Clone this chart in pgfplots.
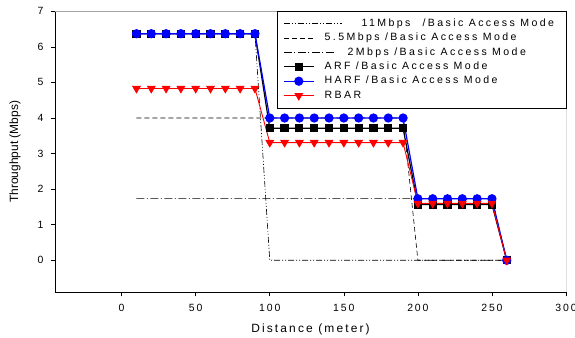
\documentclass[border=0pt]{standalone}
\usepackage{pgfplots}
\pgfplotsset{compat=1.18}
\usepackage{fontspec}
\setmainfont{Liberation Sans}
\newfontfamily\spaced[LetterSpace=18]{Liberation Sans}
\newfontfamily\spacedL[LetterSpace=23]{Liberation Sans}
\definecolor{pblue}{RGB}{0,0,255}
\definecolor{pred}{RGB}{255,0,0}
\pgfplotsset{
  legA/.style={legend image code/.code={\draw[##1,overlay] (0bp,0bp) -- (58bp,0bp); \path (0bp,0bp) -- (30bp,0bp);}},
  legB/.style={legend image code/.code={\draw[##1] (0bp,0bp) -- (30bp,0bp);}},
  legC/.style={legend image code/.code={\draw[##1,overlay] (0bp,0bp) -- (52bp,0bp); \path (0bp,0bp) -- (30bp,0bp);}},
  legM/.style={legend image code/.code={\draw[mark repeat=2, mark phase=2, ##1] plot coordinates {(0bp,0bp) (15bp,0bp) (30bp,0bp)};}},
}
\begin{document}
\begin{tikzpicture}
\useasboundingbox (0bp,0bp) rectangle (575bp,338bp);
\begin{axis}[
  at={(55bp,45.7bp)}, anchor=south west,
  scale only axis, width=511bp, height=281bp,
  xmin=-45, xmax=300, ymin=-0.9, ymax=7,
  axis x line*=bottom, axis y line*=left,
  axis line style={black, line width=0.8pt},
  xtick={0,50,...,300}, ytick={0,1,...,7},
  tick align=outside, major tick length=4bp,
  tick style={black, line width=0.6pt},
  /pgf/number format/assume math mode=true,
  tick label style={font=\spaced\fontsize{10.5}{12}\selectfont},
  yticklabel style={xshift=-4bp},
  xticklabel style={yshift=-4bp},
  xlabel={Distance (meter)},
  ylabel={Throughput (Mbps)},
  xlabel style={font=\spaced\fontsize{12}{14}\selectfont, at={(axis description cs:0.5,-0.1317)}, anchor=center},
  ylabel style={font=\fontsize{12}{14}\selectfont, at={(axis description cs:-0.0783,0.5)}, anchor=center},
  legend style={at={(rel axis cs:1,1)}, anchor=north east, draw=black, fill=white,
    font=\spacedL\fontsize{10.6}{12}\selectfont, inner xsep=6bp, inner ysep=6bp,
    row sep=2.2bp, column sep=9bp,
    nodes={inner sep=1.2bp, text height=7.6bp, text depth=2.2bp}},
  legend cell align=left,
  legM,
]
\draw[gray!70, line width=0.8pt] (rel axis cs:0,1) -- (rel axis cs:1,1);
\draw[black, line width=0.8pt] (rel axis cs:1,0) -- (rel axis cs:1,1);

% 11 Mbps
\addplot[black, line width=0.6pt, dash pattern=on 6bp off 2bp on 1bp off 2bp on 1bp off 2bp, legA]
  coordinates {(10,6.37) (20,6.37) (30,6.37) (40,6.37) (50,6.37) (60,6.37) (70,6.37) (80,6.37) (90,6.37)
  (100,0) (110,0) (120,0) (130,0) (140,0) (150,0) (160,0) (170,0) (180,0) (190,0) (200,0) (210,0) (220,0) (230,0) (240,0) (250,0) (260,0)};
\addlegendentry{\hspace*{37bp}\makebox[197bp][l]{11Mbps\hspace{12bp}/Basic Access Mode}}
% 5.5 Mbps
\addplot[black, line width=0.6pt, dash pattern=on 5bp off 3bp, legB]
  coordinates {(10,4) (20,4) (30,4) (40,4) (50,4) (60,4) (70,4) (80,4) (90,4) (100,4) (110,4) (120,4) (130,4) (140,4) (150,4) (160,4) (170,4) (180,4) (190,4)
  (200,0) (210,0) (220,0) (230,0) (240,0) (250,0) (260,0)};
\addlegendentry{5.5Mbps /Basic Access Mode}
% 2 Mbps
\addplot[black, line width=0.6pt, dash pattern=on 8bp off 2.5bp on 1bp off 2.5bp, legC]
  coordinates {(10,1.74) (20,1.74) (30,1.74) (40,1.74) (50,1.74) (60,1.74) (70,1.74) (80,1.74) (90,1.74) (100,1.74) (110,1.74) (120,1.74) (130,1.74) (140,1.74) (150,1.74) (160,1.74) (170,1.74) (180,1.74) (190,1.74) (200,1.74) (210,1.74) (220,1.74) (230,1.74) (240,1.74) (250,1.74)
  (260,0)};
\addlegendentry{\hspace*{23bp}2Mbps /Basic Access Mode}
% ARF
\addplot[black, line width=1.2pt, mark=square*, mark size=3.5bp, mark options={solid, fill=black}]
  coordinates {(10,6.37) (20,6.37) (30,6.37) (40,6.37) (50,6.37) (60,6.37) (70,6.37) (80,6.37) (90,6.37)
  (100,3.71) (110,3.71) (120,3.71) (130,3.71) (140,3.71) (150,3.71) (160,3.71) (170,3.71) (180,3.71) (190,3.71)
  (200,1.57) (210,1.57) (220,1.57) (230,1.57) (240,1.57) (250,1.57) (260,0)};
\addlegendentry{ARF /Basic Access Mode}
% HARF
\addplot[pblue, line width=1.2pt, mark=*, mark size=4bp, mark options={solid, fill=pblue}]
  coordinates {(10,6.37) (20,6.37) (30,6.37) (40,6.37) (50,6.37) (60,6.37) (70,6.37) (80,6.37) (90,6.37)
  (100,4.0) (110,4.0) (120,4.0) (130,4.0) (140,4.0) (150,4.0) (160,4.0) (170,4.0) (180,4.0) (190,4.0)
  (200,1.73) (210,1.73) (220,1.73) (230,1.73) (240,1.73) (250,1.73) (260,0)};
\addlegendentry{HARF /Basic Access Mode}
% RBAR
\addplot[pred, line width=0.9pt, mark=triangle*, mark size=4.3bp, mark options={solid, fill=pred, rotate=180}]
  coordinates {(10,4.83) (20,4.83) (30,4.83) (40,4.83) (50,4.83) (60,4.83) (70,4.83) (80,4.83) (90,4.83)
  (100,3.31) (110,3.31) (120,3.31) (130,3.31) (140,3.31) (150,3.31) (160,3.31) (170,3.31) (180,3.31) (190,3.31)
  (200,1.6) (210,1.6) (220,1.6) (230,1.6) (240,1.6) (250,1.6) (260,0)};
\addlegendentry{RBAR}
\end{axis}
\end{tikzpicture}
\end{document}
